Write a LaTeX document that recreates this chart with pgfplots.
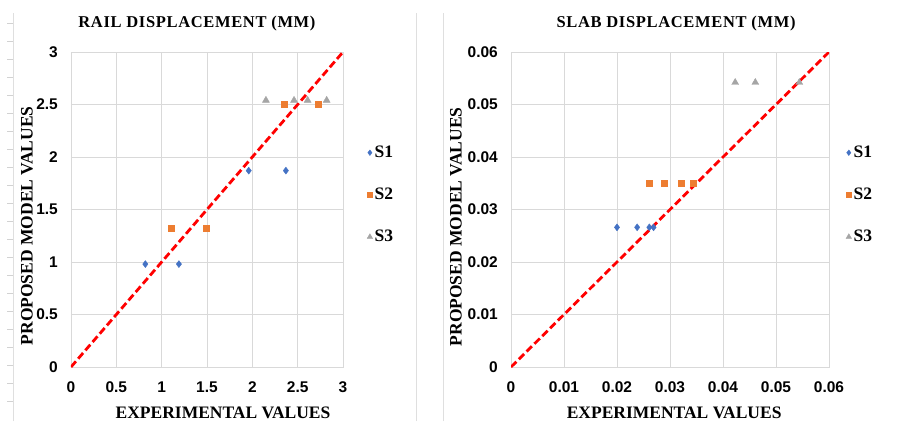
\documentclass[border=0pt]{standalone}
\usepackage{fontspec}
\setmainfont{Liberation Serif}
\newfontfamily\arial{Liberation Sans}
\usepackage{pgfplots}
\pgfplotsset{compat=1.18}
\definecolor{sone}{HTML}{4472C4}
\definecolor{stwo}{HTML}{ED7D31}
\definecolor{sthree}{HTML}{A5A5A5}
\definecolor{gridc}{HTML}{D9D9D9}

\pgfplotsset{
  excel/.style={
    scale only axis, height=315pt,
    xmin=0, ymin=0,
    axis line style={gridc, line width=0.8pt},
    grid=major, grid style={gridc, line width=0.8pt},
    major tick length=0pt,
    /pgf/number format/assume math mode=true,
    ticklabel style={font=\arial\bfseries\fontsize{15.5}{16}\selectfont, inner sep=0pt},
    yticklabel style={xshift=-13pt},
    xticklabel style={yshift=-14.5pt},
    label style={font=\bfseries\fontsize{17.5}{18}\selectfont},
    title style={font=\bfseries\fontsize{16.5}{17}\selectfont\addfontfeatures{LetterSpace=4}, anchor=center},
    legend style={draw=none, fill=none, font=\bfseries\fontsize{17.5}{17.5}\selectfont,
      row sep=25pt, anchor=north west, inner sep=0pt},
    legend cell align=left,
    legend image code/.code={\draw[#1, mark options={scale=0.8}] plot coordinates {(0pt,0pt)};},
  },
  sone/.style={only marks, mark=diamond*, mark size=3.5pt, color=sone},
  stwo/.style={only marks, mark=square*, mark size=3pt, color=stwo},
  sthree/.style={only marks, mark=triangle*, mark size=4pt, color=sthree},
  diag/.style={red, line width=2.8pt, dash pattern=on 7.5pt off 3.5pt},
}

\begin{document}
\begin{tikzpicture}
\useasboundingbox (0,0) rectangle (898pt,421pt);
% panel borders
\draw[gray!25, line width=0.8pt] (13pt,0) -- (13pt,408pt);
\foreach \k in {0,...,21} \draw[gray!35, line width=0.6pt] (7pt,398pt-\k*18pt) -- (13pt,398pt-\k*18pt);
\draw[gray!25, line width=0.8pt] (416pt,0) -- (416pt,408pt);
\draw[gray!25, line width=0.8pt] (443pt,0) -- (443pt,408pt);

\begin{axis}[excel, at={(71pt,54pt)}, anchor=south west, width=272pt,
  xmax=3, ymax=3, xtick={0,0.5,...,3}, ytick={0,0.5,...,3},
  title={RAIL DISPLACEMENT (MM)},
  title style={at={(axis description cs:0.463,1.070)}},
  xlabel={EXPERIMENTAL VALUES},
  xlabel style={at={(axis description cs:0.559,-0.146)}, anchor=center},
  ylabel={PROPOSED MODEL VALUES},
  ylabel style={at={(axis description cs:-0.162,0.448)}, anchor=center},
  legend style={at={(axis description cs:1.088,0.708)}},
]
\addplot[sone] coordinates {(0.82,0.98) (1.19,0.98) (1.96,1.87) (2.37,1.87)};
\addplot[stwo] coordinates {(1.10,1.32) (1.49,1.32) (2.35,2.50) (2.73,2.50)};
\addplot[sthree] coordinates {(2.15,2.54) (2.46,2.54) (2.61,2.54) (2.82,2.54)};
\addplot[diag, forget plot] coordinates {(0,0) (3,3)};
\legend{S1,S2,S3}
\end{axis}

\begin{axis}[excel, at={(511pt,54pt)}, anchor=south west, width=318pt,
  xmax=0.06, ymax=0.06, xtick={0,0.01,...,0.06}, ytick={0,0.01,...,0.06},
  /pgf/number format/fixed, /pgf/number format/precision=2,
  scaled ticks=false,
  title={SLAB DISPLACEMENT (MM)},
  title style={at={(axis description cs:0.519,1.070)}},
  xlabel={EXPERIMENTAL VALUES},
  xlabel style={at={(axis description cs:0.513,-0.146)}, anchor=center},
  ylabel={PROPOSED MODEL VALUES},
  ylabel style={at={(axis description cs:-0.173,0.445)}, anchor=center},
  legend style={at={(axis description cs:1.053,0.708)}},
]
\addplot[sone] coordinates {(0.0200,0.0266) (0.0238,0.0266) (0.0261,0.0266) (0.0269,0.0266)};
\addplot[stwo] coordinates {(0.0260,0.0351) (0.0289,0.0351) (0.0321,0.0351) (0.0344,0.0351)};
\addplot[sthree] coordinates {(0.0423,0.0542) (0.0461,0.0542) (0.0544,0.0542)};
\addplot[diag, forget plot] coordinates {(0,0) (0.06,0.06)};
\legend{S1,S2,S3}
\end{axis}
\end{tikzpicture}
\end{document}
